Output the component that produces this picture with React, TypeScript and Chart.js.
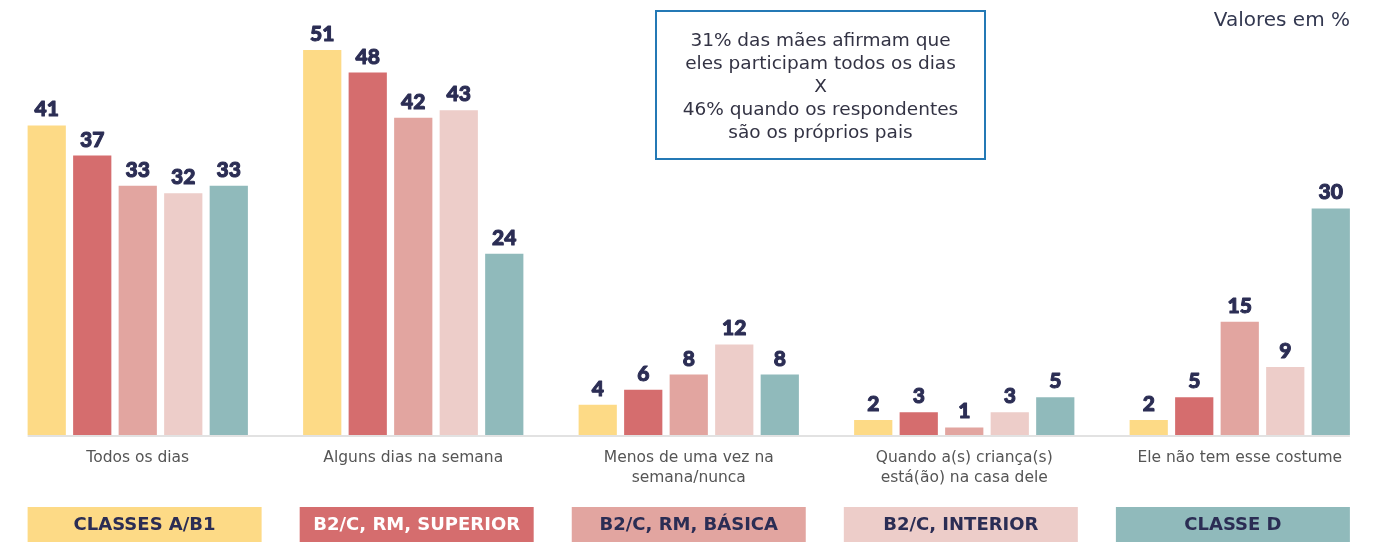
import React, { useEffect, useRef } from "react";
import { Chart, registerables } from "chart.js";

Chart.register(...registerables);

const categories: (string | string[])[] = [
  "Todos os dias",
  "Alguns dias na semana",
  ["Menos de uma vez na", "semana/nunca"],
  ["Quando a(s) criança(s)", "está(ão) na casa dele"],
  "Ele não tem esse costume",
];

const seriesNames = [
  "CLASSES A/B1",
  "B2/C, RM, SUPERIOR",
  "B2/C, RM, BÁSICA",
  "B2/C, INTERIOR",
  "CLASSE D",
];

const classesAB1 = [41, 51, 4, 2, 2];
const rmSuperior = [37, 48, 6, 3, 5];
const rmBasica = [33, 42, 8, 1, 15];
const interior = [32, 43, 12, 3, 9];
const classeD = [33, 24, 8, 5, 30];

const seriesColors = ["#FDDA86", "#D56D6E", "#E2A5A0", "#EDCDC9", "#90BABB"];
const legendTextColors = ["#2B2D54", "#FFFFFF", "#2B2D54", "#2B2D54", "#2B2D54"];

const NAVY = "#2B2D54";
const FONT = "Lato, 'Open Sans', sans-serif";
const WIDE = "'DejaVu Sans', 'Open Sans', sans-serif";

const valueLabelPlugin = {
  id: "valueLabels",
  afterDatasetsDraw(chart: any) {
    const ctx = chart.ctx;
    ctx.save();
    ctx.fillStyle = NAVY;
    ctx.strokeStyle = NAVY;
    ctx.lineWidth = 1;
    ctx.lineJoin = "round";
    ctx.font = `900 21px ${FONT}`;
    ctx.textAlign = "center";
    ctx.textBaseline = "alphabetic";
    chart.data.datasets.forEach((ds: any, i: number) => {
      const meta = chart.getDatasetMeta(i);
      meta.data.forEach((bar: any, j: number) => {
        const t = String(ds.data[j]);
        ctx.strokeText(t, bar.x, bar.y - 9);
        ctx.fillText(t, bar.x, bar.y - 9);
      });
    });
    ctx.restore();
  },
};

const axisAndLegendPlugin = {
  id: "axisAndLegend",
  afterDraw(chart: any) {
    const ctx = chart.ctx;
    const n = chart.data.datasets.length;
    const first = chart.getDatasetMeta(0).data[0];
    const lastMeta = chart.getDatasetMeta(n - 1).data;
    const last = lastMeta[lastMeta.length - 1];
    const left = first.x - first.width / 2;
    const right = last.x + last.width / 2;
    const bottom = chart.chartArea.bottom;
    ctx.save();
    ctx.strokeStyle = "#E2E2E2";
    ctx.lineWidth = 2;
    ctx.beginPath();
    ctx.moveTo(left, bottom + 1);
    ctx.lineTo(right, bottom + 1);
    ctx.stroke();

    const boxW = 234;
    const boxH = 35;
    const boxTop = 507;
    const step = (right - left - boxW) / (n - 1);
    ctx.font = `bold 18px ${WIDE}`;
    ctx.textAlign = "center";
    ctx.textBaseline = "middle";
    chart.data.datasets.forEach((ds: any, i: number) => {
      const x = left + i * step;
      ctx.fillStyle = ds.backgroundColor;
      ctx.fillRect(x, boxTop, boxW, boxH);
      ctx.fillStyle = legendTextColors[i];
      ctx.fillText(ds.label, x + boxW / 2, boxTop + boxH / 2 + 1);
    });
    ctx.restore();
  },
};

export default function App() {
  const canvasRef = useRef<HTMLCanvasElement | null>(null);

  useEffect(() => {
    let chart: Chart | null = null;
    let cancelled = false;
    const build = () => {
      if (cancelled || !canvasRef.current) return;
      const seriesData = [classesAB1, rmSuperior, rmBasica, interior, classeD];
      chart = new Chart(canvasRef.current, {
        type: "bar",
        data: {
          labels: categories as any,
          datasets: seriesData.map((d, i) => ({
            label: seriesNames[i],
            data: d,
            backgroundColor: seriesColors[i],
            borderWidth: 0,
            categoryPercentage: 0.826,
            barPercentage: 0.84,
          })),
        },
        options: {
          animation: false,
          responsive: true,
          maintainAspectRatio: false,
          layout: { padding: { top: 4.6, left: 0, right: 4.5, bottom: 0 } },
          plugins: {
            legend: { display: false },
            tooltip: { enabled: false },
          },
          scales: {
            x: {
              grid: { display: false, drawTicks: false },
              border: { display: false },
              ticks: {
                color: "#555555",
                font: { family: WIDE, size: 15.5, lineHeight: 1.3 },
                padding: 13,
                maxRotation: 0,
                autoSkip: false,
              },
              afterFit: (scale: any) => {
                scale.height = 108;
              },
            },
            y: {
              display: false,
              min: 0,
              max: 57,
            },
          },
        },
        plugins: [valueLabelPlugin, axisAndLegendPlugin],
      });
    };
    const fonts: any = (document as any).fonts;
    if (fonts && fonts.load) {
      Promise.all([
        fonts.load("900 21px Lato"),
        fonts.load("bold 21px Lato"),
        fonts.load("bold 18px 'DejaVu Sans'"),
        fonts.load("16px 'DejaVu Sans'"),
      ])
        .catch(() => null)
        .then(build);
    } else {
      build();
    }
    return () => {
      cancelled = true;
      if (chart) chart.destroy();
    };
  }, []);

  return (
    <div
      style={{
        position: "absolute",
        left: 0,
        top: 0,
        width: 1382,
        height: 543,
        background: "#FFFFFF",
        fontFamily: WIDE,
      }}
    >
      <canvas ref={canvasRef} />
      <div
        style={{
          position: "absolute",
          left: 655,
          top: 10,
          width: 331,
          height: 150,
          boxSizing: "border-box",
          border: "2px solid #2479B5",
          display: "flex",
          flexDirection: "column",
          justifyContent: "center",
          alignItems: "center",
          textAlign: "center",
          color: "#333344",
          fontSize: 18.5,
          lineHeight: "23px",
          whiteSpace: "nowrap",
        }}
      >
        <div>31% das mães afirmam que</div>
        <div>eles participam todos os dias</div>
        <div>X</div>
        <div>46% quando os respondentes</div>
        <div>são os próprios pais</div>
      </div>
      <div
        style={{
          position: "absolute",
          right: 32,
          top: 5,
          color: "#333850",
          fontSize: 20,
          lineHeight: "28px",
        }}
      >
        Valores em %
      </div>
    </div>
  );
}
